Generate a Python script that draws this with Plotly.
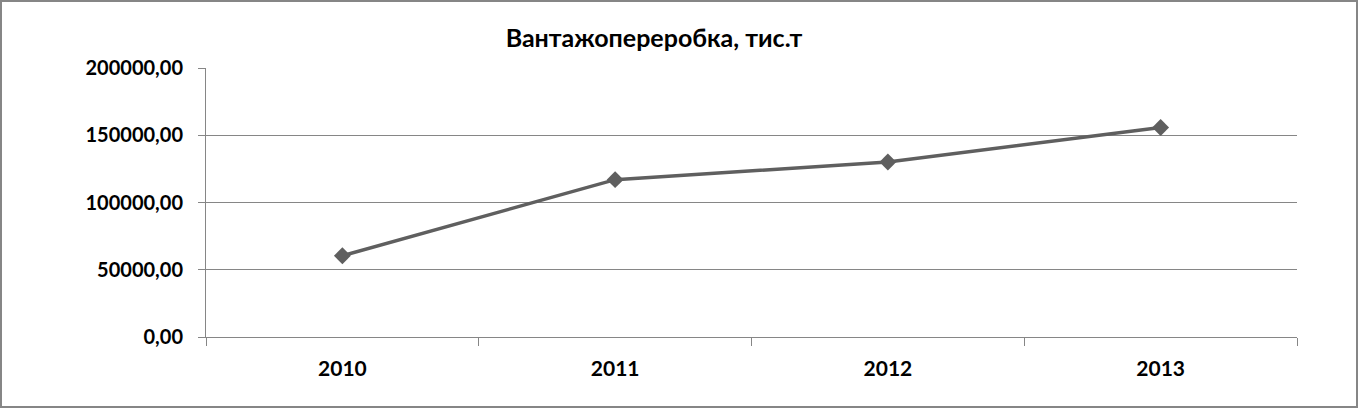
import plotly.graph_objects as go

years = ["2010", "2011", "2012", "2013"]
values = [60400, 117000, 130100, 155800]
y_ticks = [0, 50000, 100000, 150000, 200000]
title_text = "Вантажопереробка, тис.т"

W, H = 1358, 408
L, R, T, B = 206, 61, 68, 71

grid = "#868686"
line_col = "#5f5f5f"
font_fam = "Lato, 'Open Sans', sans-serif"

fig = go.Figure()
fig.add_trace(go.Scatter(
    x=years, y=values, mode="lines+markers",
    line=dict(color=line_col, width=3.5),
    marker=dict(symbol="diamond", size=13, color=line_col),
    showlegend=False, hoverinfo="x+y",
))

fig.update_layout(
    width=W, height=H,
    margin=dict(l=L, r=R, t=T, b=B, pad=0),
    paper_bgcolor="white", plot_bgcolor="white",
    separators=", ",
    font=dict(family=font_fam, color="black"),
    title=dict(text="<b>" + title_text + "</b>", x=654 / W, xref="container", xanchor="center",
               y=1 - 38 / H, yref="container", yanchor="middle",
               font=dict(size=25, family=font_fam, color="black")),
    xaxis=dict(
        type="category", range=[-0.5, 3.5],
        tickson="boundaries", ticks="outside", ticklen=8, tickcolor=grid, tickwidth=1,
        showline=True, linecolor=grid, linewidth=1,
        showgrid=False, zeroline=False,
        tickfont=dict(size=21, family=font_fam, color="black", weight="bold"),
        ticklabelstandoff=13,
    ),
    yaxis=dict(
        range=[0, 200000], tickvals=y_ticks, tickformat=".2f",
        ticks="outside", ticklen=7, tickcolor=grid, tickwidth=1,
        showline=True, linecolor=grid, linewidth=1,
        showgrid=True, gridcolor=grid, gridwidth=1, zeroline=False,
        tickfont=dict(size=20, family=font_fam, color="black", weight="bold"),
        ticklabelstandoff=11,
    ),
)

post = (
    "document.body.style.margin='0';document.body.style.overflow='hidden';"
    "var b=document.createElement('div');"
    "b.style.cssText='position:fixed;left:0;top:0;width:1358px;height:408px;"
    "box-sizing:border-box;border:2.5px solid #868686;pointer-events:none;z-index:10;';"
    "document.body.appendChild(b);"
)

fig.write_html("out.html", config={"displayModeBar": False}, post_script=post)
